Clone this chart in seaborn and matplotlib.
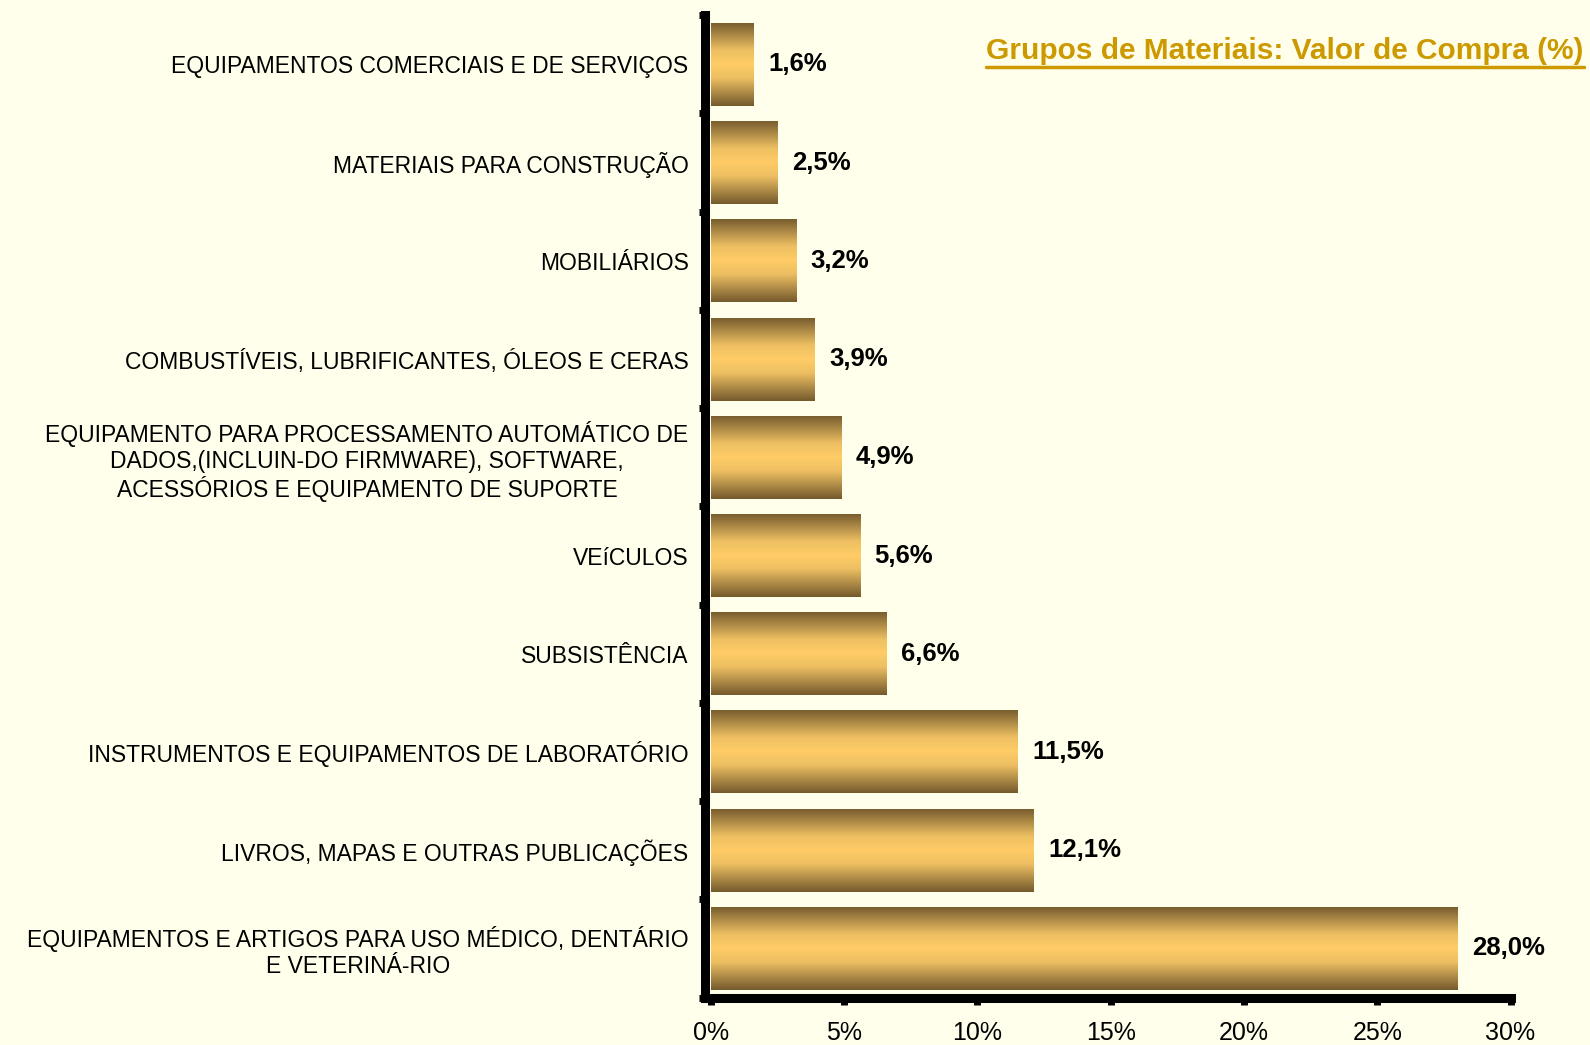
import numpy as np
import pandas as pd
import matplotlib
matplotlib.use('Agg')
import matplotlib.pyplot as plt
from matplotlib.colors import LinearSegmentedColormap
from matplotlib.lines import Line2D
import seaborn as sns

# dados
grupos = [
    'EQUIPAMENTOS COMERCIAIS E DE SERVIÇOS',
    'MATERIAIS PARA CONSTRUÇÃO',
    'MOBILIÁRIOS',
    'COMBUSTÍVEIS, LUBRIFICANTES, ÓLEOS E CERAS',
    'EQUIPAMENTO PARA PROCESSAMENTO AUTOMÁTICO DE\nDADOS,(INCLUIN-DO FIRMWARE), SOFTWARE,\nACESSÓRIOS E EQUIPAMENTO DE SUPORTE',
    'VEíCULOS',
    'SUBSISTÊNCIA',
    'INSTRUMENTOS E EQUIPAMENTOS DE LABORATÓRIO',
    'LIVROS, MAPAS E OUTRAS PUBLICAÇÕES',
    'EQUIPAMENTOS E ARTIGOS PARA USO MÉDICO, DENTÁRIO\nE VETERINÁ-RIO',
]
valores = [1.6, 2.5, 3.2, 3.9, 4.9, 5.6, 6.6, 11.5, 12.1, 28.0]
x_ticks = [0, 5, 10, 15, 20, 25, 30]
titulo = 'Grupos de Materiais: Valor de Compra (%)'

df = pd.DataFrame({'grupo': grupos, 'valor': valores})

fundo = '#FFFFEB'
sns.set_style('white')
plt.rcParams['font.family'] = ['Liberation Sans', 'DejaVu Sans']
plt.rcParams['text.color'] = 'black'
plt.rcParams['xtick.color'] = 'black'
plt.rcParams['ytick.color'] = 'black'

fig = plt.figure(figsize=(15.9, 10.45), dpi=100, facecolor=fundo)
ax = fig.add_axes([0.447, 0.0454, 0.503, 0.940])
ax.set_facecolor(fundo)

sns.barplot(data=df, x='valor', y='grupo', orient='h', color='#F0C060',
            width=0.845, ax=ax)

# gradiente vertical nas barras
cmap = LinearSegmentedColormap.from_list(
    'ouro', ['#745A2C', '#B08C48', '#EDBF62', '#FFCC66', '#EDBF62', '#B08C48', '#745A2C'])
grad = np.linspace(0, 1, 256).reshape(-1, 1)
for p in ax.patches:
    x0, y0 = p.get_x(), p.get_y()
    w, h = p.get_width(), p.get_height()
    p.set_facecolor('none')
    p.set_edgecolor('none')
    im = ax.imshow(grad, cmap=cmap, aspect='auto', extent=[x0, x0 + w, y0 + h, y0],
                   zorder=2, interpolation='bilinear')
    im.set_clip_path(p)

ax.set_xlim(0, 30)
ax.set_ylim(len(grupos) - 0.5, -0.5)

# rótulos de valor
for i, v in enumerate(valores):
    ax.text(v + 0.55, i, f'{v:.1f}%'.replace('.', ','), va='center', ha='left',
            fontsize=18.5, fontweight='bold', color='black')

# eixos (set_position antes dos ticks: ele recria os ticks)
for s in ['top', 'right']:
    ax.spines[s].set_visible(False)
for s in ['left', 'bottom']:
    ax.spines[s].set_linewidth(6.5)
    ax.spines[s].set_color('black')
    ax.spines[s].set_capstyle('projecting')
ax.spines['left'].set_position(('outward', 4))

ax.set_xlabel('')
ax.set_ylabel('')
ax.set_yticks(np.arange(-0.5, len(grupos), 1), minor=True)
ax.tick_params(axis='y', which='major', left=True, length=0, pad=12, labelsize=16.5)
ax.tick_params(axis='y', which='minor', left=True, length=4, width=5, direction='out')
ax.tick_params(axis='x', bottom=True, length=5, width=5, direction='out', pad=12,
               labelsize=18)
ax.set_xticks(x_ticks)
ax.set_xticklabels([f'{t}%' for t in x_ticks])
ax.set_yticks(range(len(grupos)))
ax.set_yticklabels(grupos, fontsize=16.5, multialignment='center', linespacing=1.15)

# título sublinhado
t = fig.text(0.996, 0.951, titulo, ha='right', va='center', fontsize=21.5,
             fontweight='bold', color='#CC9900')
fig.canvas.draw()
bb = t.get_window_extent().transformed(fig.transFigure.inverted())
fig.add_artist(Line2D([bb.x0, bb.x1], [bb.y0 - 0.002, bb.y0 - 0.002],
                      transform=fig.transFigure, color='#CC9900', linewidth=2.5))

fig.savefig('out.png', dpi=100, facecolor=fundo)
